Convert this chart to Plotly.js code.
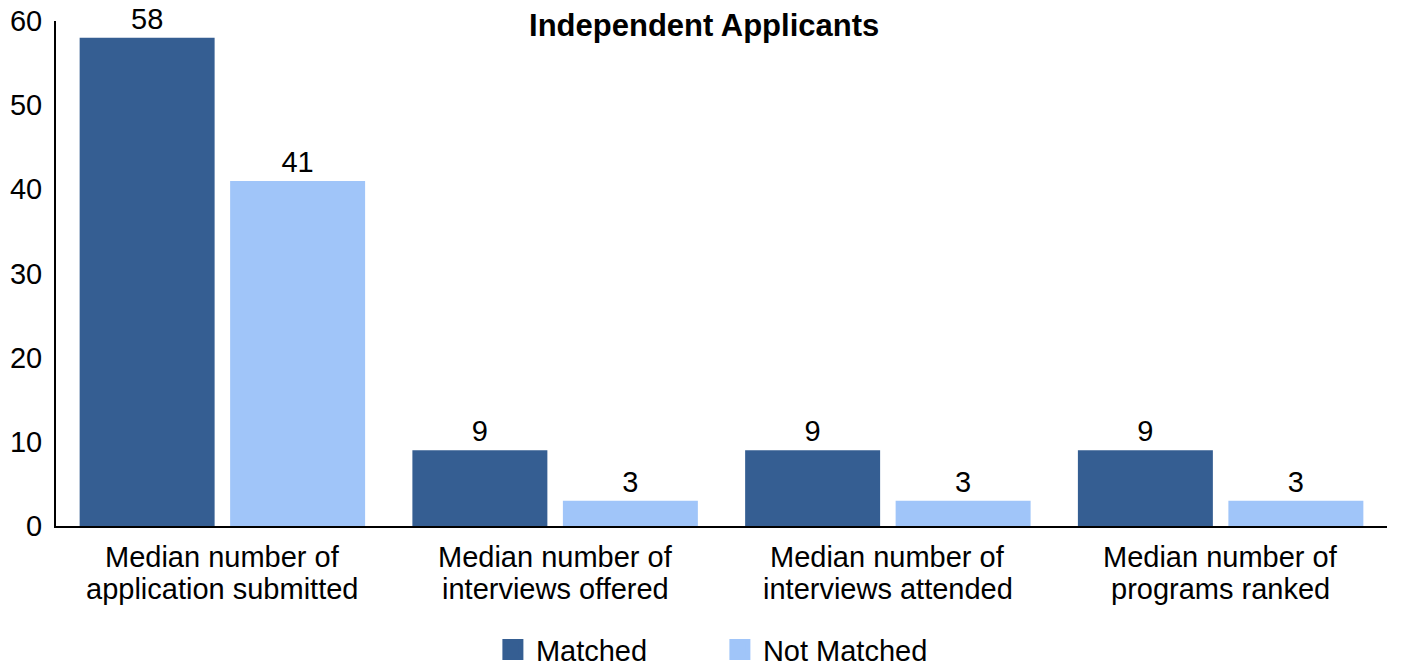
<!DOCTYPE html>
<html>
<head>
<meta charset="utf-8">
<script src="https://cdn.plot.ly/plotly-3.0.1.min.js"></script>
<style>html,body{margin:0;padding:0;background:#fff;}#chart{width:1414px;height:667px;}</style>
</head>
<body>
<div id="chart"></div>
<script>
const categories = [
  "Median number of application submitted",
  "Median number of interviews offered",
  "Median number of interviews attended",
  "Median number of programs ranked"
];
const labelLine1 = ["Median number of", "Median number of", "Median number of", "Median number of"];
const labelLine2 = ["application submitted", "interviews offered", "interviews attended", "programs ranked"];
const matched = [58, 9, 9, 9];
const notMatched = [41, 3, 3, 3];
const seriesNames = ["Matched", "Not Matched"];
const yTicks = [0, 10, 20, 30, 40, 50, 60];
const chartTitle = "Independent Applicants";

const FONT = "Liberation Sans, Arial, sans-serif";
const C1 = "#355E92", C2 = "#A0C5F9";

const barCommon = {
  type: "bar",
  textposition: "outside",
  cliponaxis: false,
  textfont: {family: FONT, size: 29, color: "#000"},
  showlegend: false,
  hoverinfo: "skip"
};
const traces = [
  Object.assign({}, barCommon, {x: categories, y: matched, name: seriesNames[0], marker: {color: C1}, text: matched.map(String)}),
  Object.assign({}, barCommon, {x: categories, y: notMatched, name: seriesNames[1], marker: {color: C2}, text: notMatched.map(String)}),
  {type: "scatter", mode: "markers", x: [categories[0]], y: [null], name: seriesNames[0],
   marker: {symbol: "square", size: 16, color: C1, line: {color: C1, width: 5}}, showlegend: true},
  {type: "scatter", mode: "markers", x: [categories[0]], y: [null], name: seriesNames[1],
   marker: {symbol: "square", size: 16, color: C2, line: {color: C2, width: 5}}, showlegend: true}
];

const annotations = [];
categories.forEach((c, i) => {
  annotations.push({xref: "x", yref: "paper", x: c, y: 0, yshift: -31, yanchor: "middle", xanchor: "center",
    text: labelLine1[i], showarrow: false, font: {family: FONT, size: 29, color: "#000"}});
  annotations.push({xref: "x", yref: "paper", x: c, y: 0, yshift: -63, yanchor: "middle", xanchor: "center",
    text: labelLine2[i], showarrow: false, font: {family: FONT, size: 29, color: "#000"}});
});

const layout = {
  width: 1414, height: 667,
  margin: {l: 56, r: 27, t: 21, b: 141},
  paper_bgcolor: "#fff", plot_bgcolor: "#fff",
  font: {family: FONT, size: 29, color: "#000"},
  title: {text: "<b>" + chartTitle + "</b>", font: {family: FONT, size: 31, color: "#000"},
          xref: "container", x: 0.498, xanchor: "center", yref: "container", y: 0.9625, yanchor: "middle"},
  barmode: "group",
  bargap: 0.0955,
  bargroupgap: 0.103,
  xaxis: {showticklabels: false, ticks: "", showgrid: false, zeroline: false,
          showline: true, linecolor: "#000", linewidth: 2},
  yaxis: {range: [0, 60], tickvals: yTicks, ticks: "", showgrid: false, zeroline: false,
          showline: true, linecolor: "#000", linewidth: 2, ticklabelstandoff: 6,
          tickfont: {family: FONT, size: 29, color: "#000"}},
  showlegend: true,
  legend: {orientation: "h", xref: "container", x: 0.507, xanchor: "center",
           yref: "container", y: 0.026, yanchor: "middle", itemwidth: 36,
           font: {family: FONT, size: 29, color: "#000"}, entrywidth: 176, entrywidthmode: "pixels",
           traceorder: "normal"},
  annotations: annotations
};

Plotly.newPlot("chart", traces, layout, {displayModeBar: false, staticPlot: true});
</script>
</body>
</html>
